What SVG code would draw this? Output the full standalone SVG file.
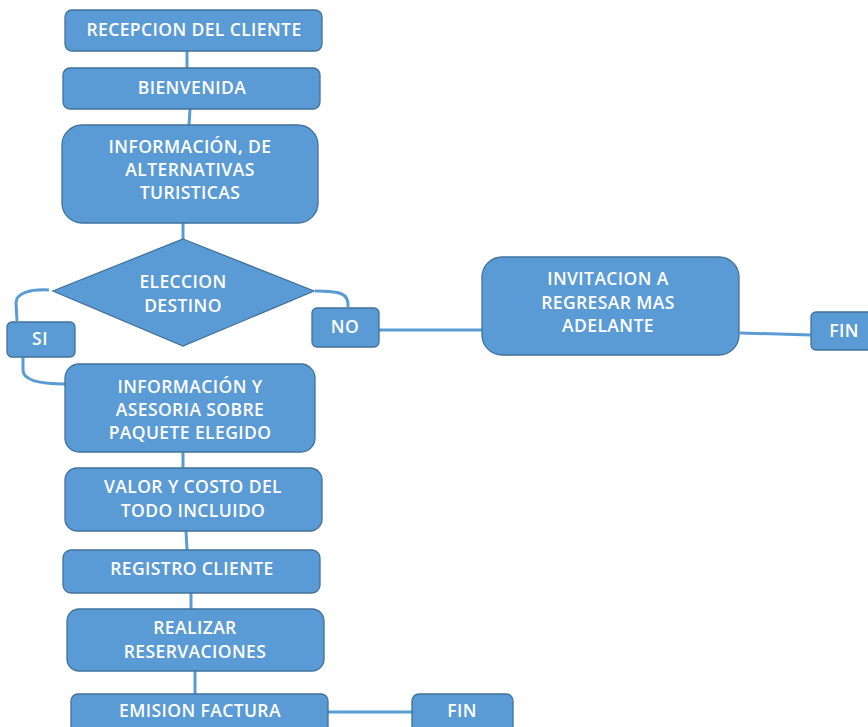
<svg xmlns="http://www.w3.org/2000/svg" width="868" height="727" viewBox="0 0 868 727">
<style>
.n{fill:#5B9BD5;stroke:#41719C;stroke-width:1.3}
.t{fill:#FFFFFF;font-family:"Open Sans","Liberation Sans",sans-serif;font-size:17.5px;font-weight:600;letter-spacing:0.4px;text-anchor:middle}
.c{fill:none;stroke:#5B9BD5;stroke-width:3}
</style>
<rect width="868" height="727" fill="#FFFFFF"/>
<g id="connectors">
<line class="c" x1="187" y1="51" x2="187" y2="68"/>
<line class="c" x1="190" y1="109" x2="189" y2="125"/>
<line class="c" x1="183" y1="223" x2="183" y2="240"/>
<path class="c" d="M49,290 C30,289 16,293 16,303 L17,321"/>
<path class="c" d="M23,357 L23,370 C23,380 40,384 65,384"/>
<path class="c" d="M315,291 C340,291 349,293 348,307"/>
<line class="c" x1="379" y1="330" x2="482" y2="330"/>
<line class="c" x1="740" y1="333" x2="811" y2="335"/>
<line class="c" x1="183" y1="452" x2="183" y2="468"/>
<line class="c" x1="186" y1="531" x2="187" y2="550"/>
<line class="c" x1="191" y1="593" x2="191" y2="609"/>
<line class="c" x1="195" y1="671" x2="195" y2="694"/>
<line class="c" x1="328" y1="712" x2="412" y2="712"/>
</g>
<g id="recepcion"><rect class="n" x="65" y="10" width="257" height="41" rx="7"/><text class="t" x="194" y="36.2">RECEPCION DEL CLIENTE</text></g>
<g id="bienvenida"><rect class="n" x="63" y="68" width="257" height="41" rx="7"/><text class="t" x="192" y="94.2">BIENVENIDA</text></g>
<g id="informacion"><rect class="n" x="62" y="125" width="256" height="98" rx="20"/><text class="t" x="190" y="153.2">INFORMACIÓN, DE</text><text class="t" x="190" y="176.2">ALTERNATIVAS</text><text class="t" x="190" y="199.2">TURISTICAS</text></g>
<g id="eleccion"><polygon class="n" points="183,239 314,291 183,346 53,291"/><text class="t" x="183" y="288.2">ELECCION</text><text class="t" x="183" y="312.2">DESTINO</text></g>
<g id="si"><rect class="n" x="7" y="322" width="68" height="35" rx="5"/><text class="t" x="40" y="345.2">SI</text></g>
<g id="no"><rect class="n" x="312" y="308" width="67" height="39" rx="5"/><text class="t" x="345" y="333.2">NO</text></g>
<g id="invitacion"><rect class="n" x="482" y="257" width="257" height="98" rx="20"/><text class="t" x="608" y="285.2">INVITACION A</text><text class="t" x="608" y="309.2">REGRESAR MAS</text><text class="t" x="608" y="332.2">ADELANTE</text></g>
<g id="fin1"><rect class="n" x="811" y="312" width="70" height="38" rx="5"/><text class="t" x="844" y="336.7">FIN</text></g>
<g id="asesoria"><rect class="n" x="65" y="364" width="250" height="88" rx="14"/><text class="t" x="190" y="393.2">INFORMACIÓN Y</text><text class="t" x="190" y="416.2">ASESORIA SOBRE</text><text class="t" x="190" y="439.2">PAQUETE ELEGIDO</text></g>
<g id="valor"><rect class="n" x="65" y="468" width="257" height="63" rx="12"/><text class="t" x="193" y="493.2">VALOR Y COSTO DEL</text><text class="t" x="193" y="517.2">TODO INCLUIDO</text></g>
<g id="registro"><rect class="n" x="63" y="550" width="257" height="43" rx="8"/><text class="t" x="192" y="575.2">REGISTRO CLIENTE</text></g>
<g id="realizar"><rect class="n" x="67" y="609" width="257" height="62" rx="12"/><text class="t" x="195" y="634.2">REALIZAR</text><text class="t" x="195" y="658.2">RESERVACIONES</text></g>
<g id="emision"><rect class="n" x="71" y="694" width="257" height="45" rx="7"/><text class="t" x="200" y="717.2">EMISION FACTURA</text></g>
<g id="fin2"><rect class="n" x="412" y="694" width="101" height="45" rx="7"/><text class="t" x="462" y="717.2">FIN</text></g>
</svg>
